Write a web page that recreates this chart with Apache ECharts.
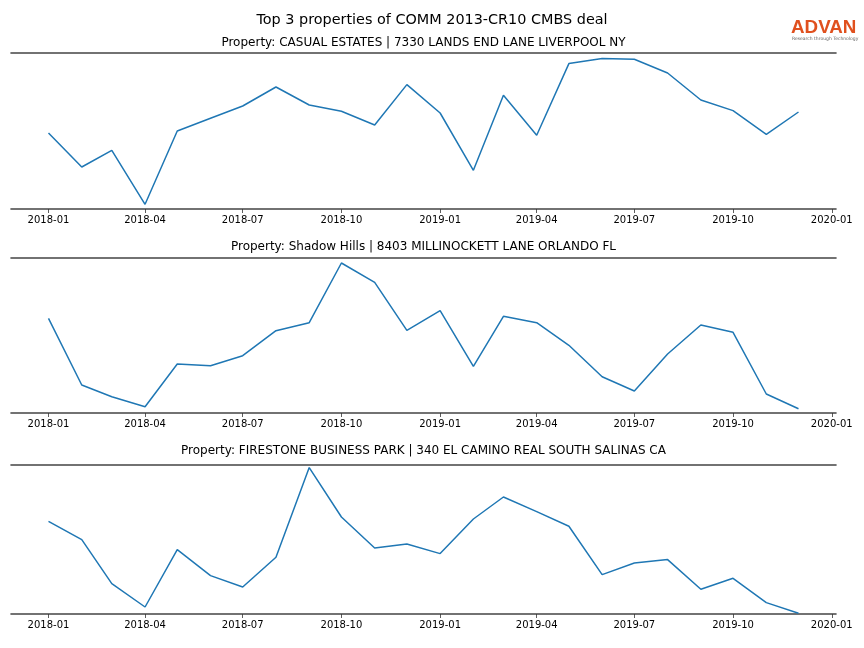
<!DOCTYPE html>
<html><head><meta charset="utf-8">
<script src="https://cdn.jsdelivr.net/npm/echarts@6/dist/echarts.min.js"></script>
<style>html,body{margin:0;padding:0;background:#fff}#c{width:864px;height:648px}</style>
</head><body><div id="c"></div>
<script>
const months = ['2018-01','2018-02','2018-03','2018-04','2018-05','2018-06','2018-07','2018-08','2018-09','2018-10','2018-11','2018-12',
'2019-01','2019-02','2019-03','2019-04','2019-05','2019-06','2019-07','2019-08','2019-09','2019-10','2019-11','2019-12'];
const tickLabels = ['2018-01','2018-04','2018-07','2018-10','2019-01','2019-04','2019-07','2019-10','2020-01'];
const mainTitle = 'Top 3 properties of COMM 2013-CR10 CMBS deal';
const subTitles = [
 'Property: CASUAL ESTATES | 7330 LANDS END LANE LIVERPOOL NY',
 'Property: Shadow Hills | 8403 MILLINOCKETT LANE ORLANDO FL',
 'Property: FIRESTONE BUSINESS PARK | 340 EL CAMINO REAL SOUTH SALINAS CA'
];
const casualEstates = [76.0,42.0,58.7,4.7,78.0,90.7,103.0,122.0,104.0,97.7,84.0,124.4,96.0,38.7,113.7,73.7,145.4,150.4,149.7,136.0,109.0,98.4,74.7,97.0];
const shadowHills = [94.7,28,16.3,6.3,49,47.3,57.3,82.3,90.3,150,130.7,82.7,102.3,46.7,96.7,90.3,67.7,36.3,22,59,88,80.7,19,4.3];
const firestone = [92.7,74.4,30.4,7,64.4,38.4,27,56.7,146.4,97,66,70,60.4,95,117,102.4,87.7,39.4,51,54.4,24.7,35.7,11.4,0.7];
const yMax = [156, 155, 149];

function ms(s){const [y,m]=s.split('-').map(Number);return Date.UTC(y,m-1,1);}
const first=ms(months[0]), last=ms(months[months.length-1]);
const pad=(last-first)*0.05;
const xMin=first-pad, xMax=last+pad;
const tickVals=tickLabels.map(ms);
function fmt(v){const d=new Date(v);return d.getUTCFullYear()+'-'+String(d.getUTCMonth()+1).padStart(2,'0');}

const series=[casualEstates,shadowHills,firestone];
const grids=[{left:11,width:825,top:53,height:156},{left:11,width:825,top:258,height:155},{left:11,width:825,top:465,height:149}];
const titleTops=[32,236,440];
const spine={show:true,lineStyle:{color:'#444',width:1.6}};
const opt={animation:false,backgroundColor:'#fff',
 title:[{text:mainTitle,left:427,top:8,textAlign:'center',textStyle:{fontFamily:'DejaVu Sans',fontSize:14.4,fontWeight:'normal',color:'#000'}}]
   .concat(subTitles.map((t,i)=>({text:t,left:418.5,top:titleTops[i],textAlign:'center',textStyle:{fontFamily:'DejaVu Sans',fontSize:12,fontWeight:'normal',color:'#000'}}))),
 grid:grids,xAxis:[],yAxis:[],series:[],
 graphic:[
  {type:'text',left:791,top:18,style:{text:'ADVAN',font:'bold 18.8px "Liberation Sans"',fill:'#e0501e'}},
  {type:'text',left:792,top:36,style:{text:'Research through Technology',font:'4.5px "DejaVu Sans"',fill:'#666'}}
 ]};
for(let i=0;i<3;i++){
 opt.xAxis.push({type:'value',gridIndex:i,min:xMin,max:xMax,position:'bottom',axisLine:spine,splitLine:{show:false},
   axisTick:{show:true,length:4,customValues:tickVals,lineStyle:{color:'#333',width:0.8}},
   axisLabel:{customValues:tickVals,formatter:fmt,fontFamily:'DejaVu Sans',fontSize:10,color:'#000',margin:6}});
 opt.xAxis.push({type:'value',gridIndex:i,min:xMin,max:xMax,position:'top',axisLine:spine,axisTick:{show:false},axisLabel:{show:false},splitLine:{show:false}});
 opt.yAxis.push({type:'value',gridIndex:i,min:0,max:yMax[i],axisLine:{show:false},axisTick:{show:false},axisLabel:{show:false},splitLine:{show:false}});
 opt.series.push({type:'line',xAxisIndex:i*2,yAxisIndex:i,showSymbol:false,symbol:'none',lineStyle:{color:'#1f77b4',width:1.5},
   data:months.map((m,j)=>[ms(m),series[i][j]])});
}
echarts.init(document.getElementById('c'),null,{renderer:'canvas'}).setOption(opt);
</script></body></html>
